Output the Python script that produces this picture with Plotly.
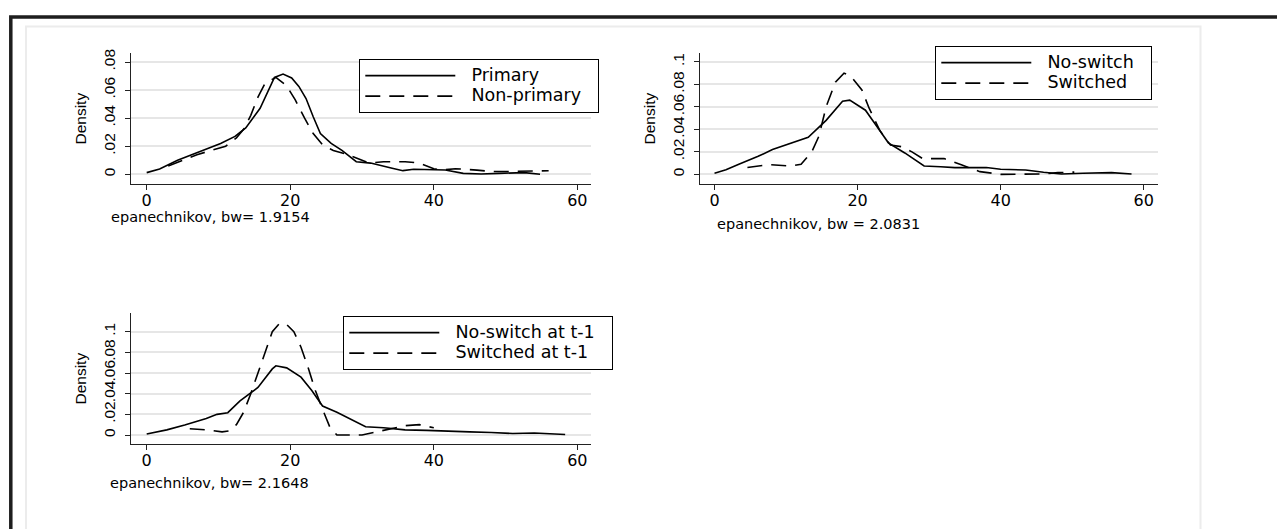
import plotly.graph_objects as go

# the page adds an 8px body margin, so the figure starts at (8, 8) of the screenshot
OFF = 8
W, H = 1285 - OFF, 529 - OFF

# ---------------- data ----------------
# Panel 1
p1_primary_x = [0, 1.8, 4.3, 7.8, 10.3, 12.3, 13.8, 15.8, 17.8, 19.0, 20.2, 21.2, 22.2, 23.2, 24.2, 25.7, 27.2,
                29.2, 31.2, 34.2, 35.7, 37.2, 39.7, 41.6, 44.1, 46.6, 49.1, 52.6, 54.8]
p1_primary_y = [0.0012, 0.0038, 0.0100, 0.0170, 0.0220, 0.0270, 0.0330, 0.0470, 0.0690, 0.0714, 0.0686, 0.0626,
                0.0540, 0.0410, 0.0290, 0.0220, 0.0170, 0.0090, 0.0080, 0.0043, 0.0026, 0.0036, 0.0036, 0.0031,
                0.0007, 0.0002, 0.0007, 0.0012, 0.0000]
p1_nonprimary_x = [3, 5, 7, 9, 11, 12.5, 13.5, 14.5, 15.5, 16.5, 18, 19.5, 20.7, 22, 23.2, 24.5, 26, 28, 30, 31,
                   33, 36, 38, 40, 41, 43, 46, 48, 50, 53, 56]
p1_nonprimary_y = [0.006, 0.010, 0.014, 0.017, 0.020, 0.026, 0.032, 0.042, 0.055, 0.065, 0.069, 0.063, 0.053,
                   0.040, 0.029, 0.021, 0.017, 0.014, 0.010, 0.008, 0.009, 0.009, 0.008, 0.004, 0.003, 0.004,
                   0.003, 0.002, 0.002, 0.002, 0.0025]

# Panel 2
p2_noswitch_x = [0, 1.6, 3.4, 6.1, 8.1, 10.5, 13.1, 15.6, 17.9, 18.9, 21.1, 23.1, 24.3, 26.6, 29.3, 31.6, 33.6,
                 36.6, 38.0, 40.0, 43.5, 46.0, 48.5, 51.5, 55.5, 58.3]
p2_noswitch_y = [0.001, 0.004, 0.009, 0.016, 0.022, 0.027, 0.033, 0.048, 0.065, 0.066, 0.057, 0.039, 0.028,
                 0.019, 0.0074, 0.0068, 0.006, 0.006, 0.006, 0.0045, 0.0039, 0.0018, 0.0003, 0.0009, 0.0015,
                 0.0003]
p2_switched_x = [4.6, 7.6, 10.6, 12.1, 13.6, 14.6, 15.6, 16.9, 18.1, 19.1, 20.6, 21.6, 23.1, 24.6, 26.1, 27.6,
                 29.1, 32.1, 34.6, 37.1, 40.0, 43.5, 46.0, 48.0, 50.3]
p2_switched_y = [0.006, 0.0086, 0.0074, 0.009, 0.020, 0.034, 0.060, 0.082, 0.090, 0.087, 0.075, 0.059, 0.039,
                 0.026, 0.0246, 0.020, 0.014, 0.014, 0.0083, 0.0024, 0.0, 0.0, 0.0003, 0.0015, 0.002]

# Panel 3
p3_noswitch_x = [0, 2.8, 5.3, 8.3, 9.8, 11.3, 13.0, 15.5, 17.5, 18.0, 19.5, 21.5, 23.0, 24.5, 26.5, 29.0, 30.5,
                 33.0, 36.0, 39.0, 42.0, 45.0, 48.0, 51.0, 54.0, 56.0, 58.3]
p3_noswitch_y = [0.001, 0.005, 0.0097, 0.016, 0.020, 0.0216, 0.033, 0.046, 0.064, 0.067, 0.065, 0.056, 0.043,
                 0.028, 0.022, 0.013, 0.008, 0.007, 0.005, 0.0045, 0.0035, 0.003, 0.0025, 0.0015, 0.002, 0.001,
                 0.0005]
p3_switched_x = [6, 8.5, 10.5, 11.5, 12.5, 13.5, 14.5, 15.5, 16.5, 17.5, 18.5, 19.5, 20.5, 21.5, 22.5, 23.5,
                 24.5, 25.5, 26.5, 28, 30, 32, 34, 36, 38, 40]
p3_switched_y = [0.006, 0.005, 0.003, 0.004, 0.010, 0.022, 0.040, 0.060, 0.082, 0.100, 0.108, 0.107, 0.100,
                 0.085, 0.065, 0.043, 0.025, 0.008, 0.000, 0.0, 0.0, 0.003, 0.006, 0.009, 0.010, 0.007]

x_ticks = [0, 20, 40, 60]
x_ticktext = ["0", "20", "40", "60"]
y_ticks_p1 = [0, 0.02, 0.04, 0.06, 0.08]
y_ticktext_p1 = ["0", ".02", ".04", ".06", ".08"]
y_ticks_p23 = [0, 0.02, 0.04, 0.06, 0.08, 0.1]
y_ticktext_p23 = ["0", ".02", ".04", ".06", ".08", ".1"]

legend_names = [("Primary", "Non-primary"), ("No-switch", "Switched"),
                ("No-switch at t-1", "Switched at t-1")]
captions = ["epanechnikov, bw= 1.9154", "epanechnikov, bw = 2.0831", "epanechnikov, bw= 2.1648"]

# ---------------- helpers ----------------
def px_x(p):
    return (p - OFF) / W

def px_y(p):
    return 1 - (p - OFF) / H

NB = "\u00a0"

def leg_label(s):
    return f"<span style='font-size:17.5px'>{NB}{NB}{s}{NB}{NB}</span>"

SOLID = dict(color="black", width=1.6)
DASHED = dict(color="black", width=1.6, dash="15px,9px")

fig = go.Figure()

series = [
    (p1_primary_x, p1_primary_y, p1_nonprimary_x, p1_nonprimary_y, "x", "y", "legend"),
    (p2_noswitch_x, p2_noswitch_y, p2_switched_x, p2_switched_y, "x2", "y2", "legend2"),
    (p3_noswitch_x, p3_noswitch_y, p3_switched_x, p3_switched_y, "x3", "y3", "legend3"),
]
for i, (sx, sy, dx, dy, xa, ya, lg) in enumerate(series):
    fig.add_trace(go.Scatter(x=sx, y=sy, mode="lines", line=SOLID, name=leg_label(legend_names[i][0]),
                             xaxis=xa, yaxis=ya, legend=lg))
    fig.add_trace(go.Scatter(x=dx, y=dy, mode="lines", line=DASHED, name=leg_label(legend_names[i][1]),
                             xaxis=xa, yaxis=ya, legend=lg))

TICKFONT_X = dict(family="DejaVu Sans", size=16, color="black")
TICKFONT_Y = dict(family="Liberation Sans", size=15.5, color="black")

def xaxis(domain, anchor, rng):
    return dict(domain=domain, anchor=anchor, range=rng, tickvals=x_ticks, ticktext=x_ticktext,
                showline=True, linecolor="#222", linewidth=1.3, ticks="outside", ticklen=5,
                tickcolor="#222", tickwidth=1.3, showgrid=False, zeroline=False, ticklabelstandoff=-3,
                tickfont=TICKFONT_X, automargin=False, fixedrange=True)

def yaxis(domain, anchor, rng, tv, tt):
    return dict(domain=domain, anchor=anchor, range=rng, tickvals=tv, ticktext=tt,
                showline=True, linecolor="#222", linewidth=1.3, ticks="outside", ticklen=5,
                tickcolor="#222", tickwidth=1.3, showgrid=True, gridcolor="#e6e6e6", gridwidth=1.5,
                zeroline=False, tickangle=-90, tickfont=TICKFONT_Y, automargin=False, fixedrange=True,
                ticklabelstandoff=4,
                title=dict(text="Density", font=dict(family="Liberation Sans", size=15.5, color="black"),
                           standoff=10))

dom_x_left = [px_x(131.4), px_x(591)]
dom_x_right = [px_x(700), px_x(1158)]
dom_y_top = [px_y(184), px_y(53.3)]
dom_y_bot = [px_y(444), px_y(313.3)]

LEGFONT = dict(family="DejaVu Sans", size=13.5, color="black")

def legend(x, y):
    return dict(x=px_x(x), y=px_y(y), xanchor="left", yanchor="top", bgcolor="white",
                bordercolor="black", borderwidth=1.3, font=LEGFONT, itemwidth=90,
                tracegroupgap=0, itemclick=False, itemdoubleclick=False)

fig.update_layout(
    width=W, height=H, margin=dict(l=0, r=0, t=0, b=0), autosize=False,
    paper_bgcolor="white", plot_bgcolor="white", showlegend=True,
    xaxis=xaxis(dom_x_left, "y", [-2.13, 61.9]),
    yaxis=yaxis(dom_y_top, "x", [-0.0069, 0.0862], y_ticks_p1, y_ticktext_p1),
    xaxis2=xaxis(dom_x_right, "y2", [-2.03, 62.0]),
    yaxis2=yaxis(dom_y_top, "x2", [-0.0086, 0.1076], y_ticks_p23, y_ticktext_p23),
    xaxis3=xaxis(dom_x_left, "y3", [-2.13, 61.9]),
    yaxis3=yaxis(dom_y_bot, "x3", [-0.0087, 0.1178], y_ticks_p23, y_ticktext_p23),
    legend=legend(359, 59),
    legend2=legend(935, 46),
    legend3=legend(343, 316),
)

# outer frame and light panel
fig.add_shape(type="rect", xref="paper", yref="paper", x0=px_x(10.8), x1=px_x(1300), y0=px_y(17), y1=px_y(560),
              line=dict(color="#1e1e1e", width=3.5), fillcolor="rgba(0,0,0,0)", layer="below")
fig.add_shape(type="rect", xref="paper", yref="paper", x0=px_x(26), x1=px_x(1200.5), y0=px_y(26.5), y1=px_y(560),
              line=dict(color="#ececec", width=2), fillcolor="rgba(0,0,0,0)", layer="below")

CAPFONT = dict(family="DejaVu Sans", size=14.5, color="black")
for cap, (cx, cy) in zip(captions, [(109, 217), (715, 224), (108, 483)]):
    fig.add_annotation(text=cap, xref="paper", yref="paper", x=px_x(cx), y=px_y(cy), xanchor="left",
                       yanchor="middle", showarrow=False, font=CAPFONT)

fig.write_html("out.html")
